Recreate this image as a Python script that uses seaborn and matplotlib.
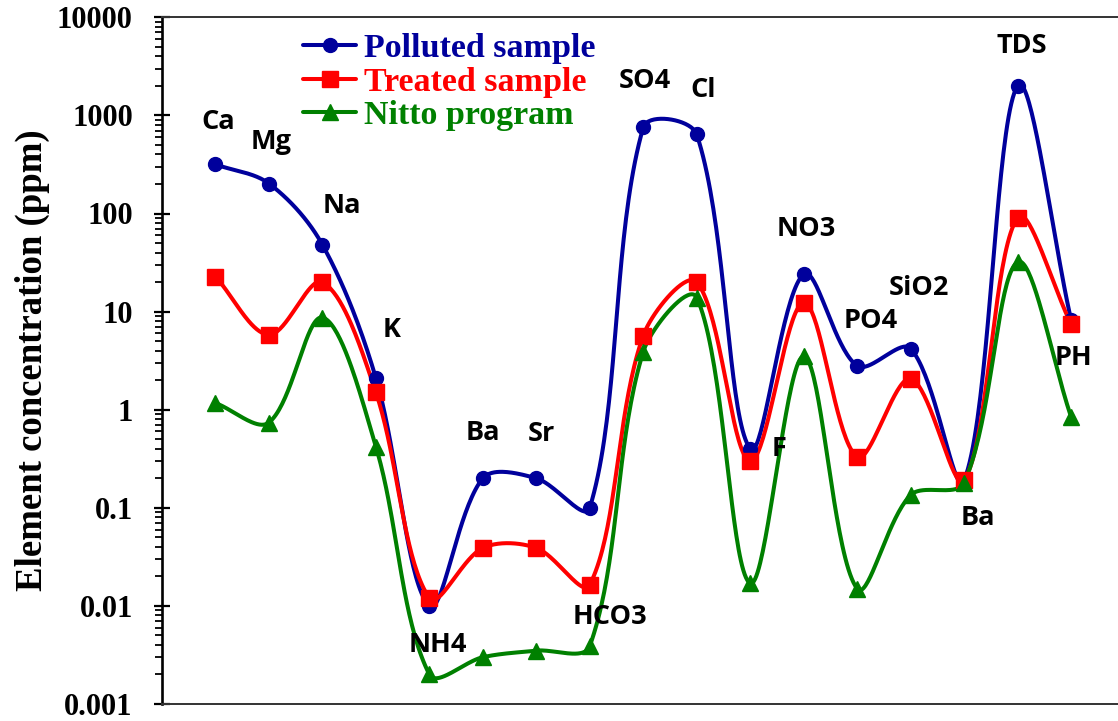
import matplotlib
matplotlib.use("Agg")
import matplotlib.pyplot as plt
from matplotlib.lines import Line2D
from matplotlib.ticker import LogLocator, NullFormatter
import numpy as np
import pandas as pd
import seaborn as sns

# chart values
elements = ["Ca", "Mg", "Na", "K", "NH4", "Ba", "Sr", "HCO3", "SO4", "Cl",
            "F", "NO3", "PO4", "SiO2", "Ba", "TDS", "PH"]
polluted = [316, 202, 48, 2.1, 0.01, 0.2, 0.2, 0.1, 755, 640,
            0.4, 24, 2.8, 4.2, 0.19, 2000, 8.3]
treated = [22.7, 5.8, 20, 1.5, 0.012, 0.039, 0.039, 0.0164, 5.7, 20,
           0.3, 12.3, 0.33, 2.07, 0.19, 91, 7.5]
nitto = [1.17, 0.74, 8.7, 0.42, 0.002, 0.003, 0.0035, 0.0039, 3.9, 13.9,
         0.017, 3.5, 0.015, 0.135, 0.18, 32, 0.85]
series_names = ["Polluted sample", "Treated sample", "Nitto program"]

# where each element name is written (category offset, ppm)
label_dx = [0.06, 0.05, 0.36, 0.29, 0.15, 0.01, 0.09, 0.38, 0.02, 0.12,
            0.54, 0.05, 0.26, 0.16, 0.26, 0.08, 0.04]
label_y = [849, 530, 118, 6.5, 0.0040, 0.58, 0.57, 0.0077, 2220, 1800,
           0.40, 70, 8.1, 17.6, 0.079, 5060, 3.4]

colors = ["#00009C", "#FF0000", "#008000"]
markers = ["o", "s", "^"]
msizes = [10, 11, 11]

# screen scale used for the smoothing (px per category, px per decade)
SX, SY = 53.5, 98.0


def smooth(xs, ys, n=40):
    # Excel-like smoothed line: Bezier segments, tangent split by segment length
    p = np.column_stack([np.asarray(xs) * SX, np.log10(ys) * SY])
    k = len(p)
    out = []
    for i in range(k - 1):
        p1, p2 = p[i], p[i + 1]
        p0 = p[i - 1] if i > 0 else p1
        p3 = p[i + 2] if i + 2 < k else p2
        d01 = np.linalg.norm(p1 - p0)
        d12 = np.linalg.norm(p2 - p1)
        d23 = np.linalg.norm(p3 - p2)
        t1 = p2 - p0
        t2 = p3 - p1
        w1 = d12 / (d01 + d12) if d01 + d12 > 0 else 0.5
        w2 = d12 / (d12 + d23) if d12 + d23 > 0 else 0.5
        c1 = p1 + t1 * w1 / 3
        c2 = p2 - t2 * w2 / 3
        t = np.linspace(0, 1, n, endpoint=False)[:, None]
        seg = ((1 - t) ** 3) * p1 + 3 * ((1 - t) ** 2) * t * c1 \
            + 3 * (1 - t) * t ** 2 * c2 + t ** 3 * p2
        out.append(seg)
    out.append(p[-1:])
    out = np.vstack(out)
    return out[:, 0] / SX, 10 ** (out[:, 1] / SY)


def main():
    sns.set_theme(style="ticks")
    plt.rcParams["font.family"] = ["Liberation Serif", "DejaVu Serif"]

    xs = np.arange(1, len(elements) + 1)
    frames = []
    points = []
    for name, vals in zip(series_names, [polluted, treated, nitto]):
        sx, sy = smooth(xs, vals)
        frames.append(pd.DataFrame({"x": sx, "y": sy, "series": name}))
        points.append(pd.DataFrame({"x": xs, "y": vals, "series": name}))
    curves = pd.concat(frames, ignore_index=True)
    pts = pd.concat(points, ignore_index=True)

    fig = plt.figure(figsize=(11.18, 7.21), dpi=100)
    ax = fig.add_axes([162 / 1118, 17 / 721, 962.5 / 1118, 686.7 / 721])

    palette = dict(zip(series_names, colors))
    sns.lineplot(data=curves, x="x", y="y", hue="series", palette=palette,
                 sort=False, estimator=None, units="series", linewidth=2.9,
                 legend=False, ax=ax)
    for name, m, ms in zip(series_names, markers, msizes):
        d = pts[pts["series"] == name]
        ax.plot(d["x"], d["y"], linestyle="none", marker=m, markersize=ms,
                color=palette[name], zorder=3)

    ax.set_yscale("log")
    ax.set_ylim(0.001, 10000)
    ax.set_xlim(0, 18)
    ax.set_xticks([])
    ax.set_xlabel("")
    ax.yaxis.set_minor_locator(LogLocator(base=10, subs=np.arange(2, 10), numticks=20))
    ax.yaxis.set_minor_formatter(NullFormatter())
    ax.set_yticks([0.001, 0.01, 0.1, 1, 10, 100, 1000, 10000])
    ax.set_yticklabels(["0.001", "0.01", "0.1", "1", "10", "100", "1000", "10000"],
                       fontsize=22, fontweight="bold", color="black")
    ax.tick_params(axis="y", which="major", direction="inout", length=12,
                   width=1.6, color="black", pad=15)
    ax.tick_params(axis="y", which="minor", direction="out", length=5,
                   width=1.3, color="black")
    ax.set_ylabel("Element concentration (ppm)", fontsize=26.5, fontweight="bold",
                  color="black", labelpad=5)

    ax.spines["left"].set_linewidth(1.9)
    ax.spines["left"].set_color("black")
    for s in ["top", "bottom"]:
        ax.spines[s].set_linewidth(1.4)
        ax.spines[s].set_color("#333333")
    ax.spines["right"].set_visible(False)

    for i, name in enumerate(elements):
        ax.text(xs[i] + label_dx[i], label_y[i], name, ha="center", va="center",
                fontsize=19.5, fontweight="bold", family=["Open Sans", "DejaVu Sans"],
                color="black")

    handles = [Line2D([], [], color=c, marker=m, markersize=ms, linewidth=2.9)
               for c, m, ms in zip(colors, markers, msizes)]
    leg = ax.legend(handles, series_names, loc="upper left",
                    bbox_to_anchor=(0.122, 1.012), frameon=False,
                    prop={"family": "Liberation Serif", "weight": "bold", "size": 24.5},
                    handlelength=1.55, handletextpad=0.25, labelspacing=0.08,
                    borderaxespad=0.3)
    for txt, c in zip(leg.get_texts(), colors):
        txt.set_color(c)

    fig.savefig("out.png", dpi=100)


if __name__ == "__main__":
    main()
